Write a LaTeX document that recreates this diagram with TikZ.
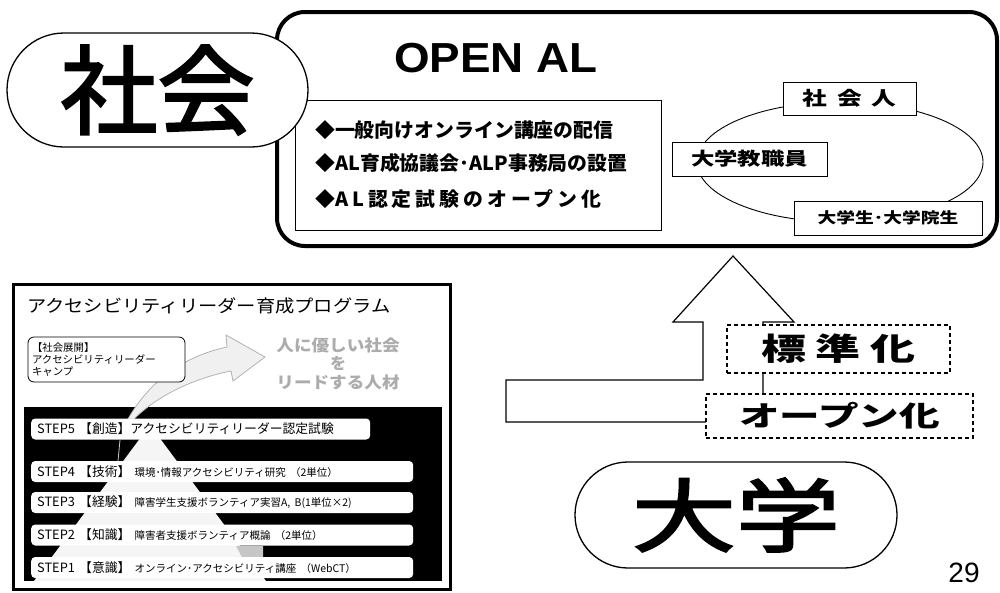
\documentclass[tikz,border=0pt]{standalone}
\usepackage{fontspec}
\usepackage{graphicx}
\setmainfont{Liberation Sans}
\newfontfamily\jp{Noto Sans CJK JP}
\newfontfamily\jpheavy{Noto Sans CJK JP}[FakeBold=2.3]
\usetikzlibrary{positioning,shapes.geometric}

\newcommand{\wide}[2]{\scalebox{#1}[1]{#2}}
\newcommand{\fs}[1]{\fontsize{#1}{#1}\selectfont}

\tikzset{
  panel/.style={draw, line width=4pt, fill=white, rounded corners=28pt, inner sep=0pt},
  capsule/.style={draw, line width=1.3pt, fill=white, inner sep=0pt},
  thinbox/.style={draw, line width=1pt, fill=white, inner sep=0pt},
  dashbox/.style={draw, line width=1.2pt, dash pattern=on 4pt off 3pt, fill=white, inner sep=0pt},
  item/.style={anchor=west, inner sep=0pt, font=\jp\bfseries\fs{19.5}},
  stepbar/.style={fill=white, rounded corners=4pt, anchor=west, minimum height=21pt,
    inner xsep=6pt, inner ysep=0pt, align=left, font=\jp\fs{12.8}},
  campbox/.style={draw, fill=white, rounded corners=6pt, line width=0.8pt, minimum height=45pt,
    inner xsep=4pt, align=left, font=\jp\fontsize{10.4}{12}\selectfont},
  goal/.style={inner sep=0pt, text=gray!65, font=\jp\bfseries\fs{16}}
}

\begin{document}
\begin{tikzpicture}[x=1pt, y=-1pt]
  \useasboundingbox (0,0) rectangle (1000,592);

  % OPEN AL panel
  \node[panel, minimum width=720, minimum height=234] (panel) at (637,129) {};
  \node[inner sep=0pt, font=\bfseries\fs{42}] (openal) at (496,58) {\wide{1.09}{OPEN AL}};
  \node[thinbox, minimum width=366, minimum height=130] (list) at (478,165) {};
  \node[item] (item1) at (315,130) {\wide{1.02}{◆一般向けオンライン講座の配信}};
  \node[item] (item2) at (315,163) {\wide{1.02}{◆AL育成協議会･ALP事務局の設置}};
  \node[item] (item3) at (315,199) {\wide{1.02}{◆{\addfontfeatures{LetterSpace=20}AL認定試験のオープン化}}};

  % People ring
  \node[draw, ellipse, line width=0.9pt, minimum width=286, minimum height=120, inner sep=0pt] (ring) at (840,162) {};
  \node[thinbox, minimum width=133, minimum height=33, font=\jp\bfseries\fs{19}] (worker) at (849.5,98.5)
    {\wide{1.3}{\addfontfeatures{LetterSpace=40}社会人}};
  \node[thinbox, minimum width=155, minimum height=34, font=\jp\bfseries\fs{18}] (staff) at (749.5,159)
    {\wide{1.3}{大学教職員}};
  \node[thinbox, minimum width=188, minimum height=34, font=\jp\bfseries\fs{15}] (student) at (888,218)
    {\wide{1.25}{大学生･大学院生}};

  % Society
  \node[capsule, minimum width=301, minimum height=114, rounded corners=57pt,
    font=\jpheavy\fs{97}] (society) at (157.5,90) {社会};

  % Bent arrow
  \draw[line width=1.2pt, fill=white] (506,380) -- (703,380) -- (703,322) -- (673,322) -- (733,256)
    -- (794,322) -- (763,322) -- (763,422) -- (506,422) -- cycle;
  \node[dashbox, minimum width=223, minimum height=48, font=\jp\bfseries\fs{31}] (std) at (838.5,349)
    {\wide{1.45}{\addfontfeatures{LetterSpace=22}標準化}};
  \node[dashbox, minimum width=267, minimum height=44, font=\jp\bfseries\fs{28}] (open) at (839.5,416)
    {\wide{1.45}{オープン化}};

  % University
  \node[capsule, minimum width=322, minimum height=106, rounded corners=53pt,
    font=\jpheavy\fs{80}] (univ) at (736,515) {\wide{1.3}{大学}};
  \node[inner sep=0pt, font=\fs{28}] (page) at (964,573) {29};

  % Program
  \draw[line width=3pt] (13,284) rectangle (450,589);
  \node[anchor=west, inner sep=0pt, font=\jp\fs{17.5}] (progtitle) at (27,306)
    {\wide{1.1}{アクセシビリティリーダー育成プログラム}};
  \fill (24,407) rectangle (442,581);
  \fill[gray!8] (150,425) -- (266,581) -- (34,581) -- cycle;
  \fill[gray!45] (236,546) -- (263,546) -- (263,557) -- (242,557) -- cycle;
  \draw[gray!60, fill=gray!12, line width=0.8pt] (128,419) .. controls (150,380) and (185,356) .. (227,347)
    -- (226,335) -- (265,357) -- (233,381) -- (231,371) .. controls (195,378) and (158,395) .. (134,419) -- cycle;
  \draw[gray!40, line width=0.8pt] (120,440) -- (118,461);
  \node[stepbar, text width=327] (step5) at (31,429) {STEP5 【創造】アクセシビリティリーダー認定試験};
  \node[stepbar, text width=370] (step4) at (31,471.5) {STEP4 【技術】{\fs{10.5} 環境･情報アクセシビリティ研究 （2単位）}};
  \node[stepbar, text width=370] (step3) at (31,502.5) {STEP3 【経験】{\fs{10.5} 障害学生支援ボランティア実習A, B(1単位×2)}};
  \node[stepbar, text width=370] (step2) at (31,535) {STEP2 【知識】{\fs{10.5} 障害者支援ボランティア概論 （2単位）}};
  \node[stepbar, text width=370] (step1) at (31,567.5) {STEP1 【意識】{\fs{10.5} オンライン･アクセシビリティ講座 （WebCT）}};
  \node[campbox, text width=149] (camp) at (106.5,359.5) {【社会展開】\\アクセシビリティリーダー\\キャンプ};
  \node[goal] (goal1) at (338,345) {\wide{1.1}{人に優しい社会}};
  \node[goal] (goal2) at (338,363) {を};
  \node[goal] (goal3) at (338,382) {\wide{1.1}{リードする人材}};
\end{tikzpicture}
\end{document}
